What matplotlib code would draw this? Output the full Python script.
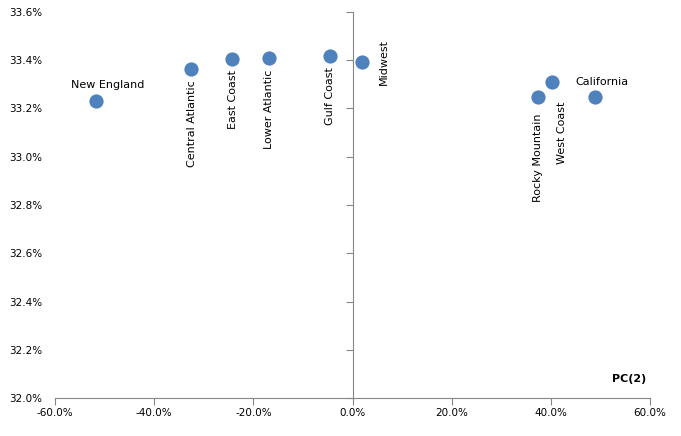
import matplotlib
matplotlib.use("Agg")
import matplotlib.pyplot as plt
from matplotlib.ticker import FuncFormatter

regions = ["New England", "Central Atlantic", "East Coast", "Lower Atlantic",
           "Gulf Coast", "Midwest", "Rocky Mountain", "West Coast", "California"]
pc2 = [-51.7, -32.6, -24.3, -16.8, -4.5, 1.9, 37.4, 40.2, 48.9]
pc1 = [33.231, 33.364, 33.405, 33.409, 33.418, 33.393, 33.248, 33.310, 33.248]
x_ticks = [-60, -40, -20, 0, 20, 40, 60]
y_ticks = [32.0, 32.2, 32.4, 32.6, 32.8, 33.0, 33.2, 33.4, 33.6]

# label placement: (dx, dy in points, rotation, ha, va)
label_style = {
    "New England": (8, 8, 0, "center", "bottom"),
    "Central Atlantic": (1, -8, 90, "center", "top"),
    "East Coast": (1, -8, 90, "center", "top"),
    "Lower Atlantic": (0, -8, 90, "center", "top"),
    "Gulf Coast": (0, -8, 90, "center", "top"),
    "Midwest": (16, 0, 90, "center", "center"),
    "Rocky Mountain": (0, -12, 90, "center", "top"),
    "West Coast": (7, -14, 90, "center", "top"),
    "California": (-14, 7, 0, "left", "bottom"),
}

plt.rcParams['font.family'] = ['DejaVu Sans']
fig = plt.figure(figsize=(6.81, 4.36), dpi=100)
ax = fig.add_axes([55/681, 38/436, 595/681, 386/436])

ax.scatter(pc2, pc1, s=105, color="#4F81BD", zorder=3, linewidths=0)

for name, x, y in zip(regions, pc2, pc1):
    dx, dy, rot, ha, va = label_style[name]
    ax.annotate(name, (x, y), xytext=(dx, dy), textcoords="offset points",
                rotation=rot, ha=ha, va=va, fontsize=8, color="#000000")

ax.set_xlim(-60, 60)
ax.set_ylim(32.0, 33.6)
ax.set_xticks(x_ticks)
ax.set_yticks(y_ticks)
ax.xaxis.set_major_formatter(FuncFormatter(lambda v, p: f"{v:.1f}%"))
ax.yaxis.set_major_formatter(FuncFormatter(lambda v, p: f"{v:.1f}%"))

gray = "#868686"
for s in ["top", "left"]:
    ax.spines[s].set_visible(False)
ax.spines["right"].set_position(("data", 0))
ax.spines["right"].set_color(gray)
ax.spines["bottom"].set_color(gray)
ax.tick_params(axis="y", left=False, right=True, labelleft=True, labelright=False,
               direction="in", length=5, color=gray, pad=9, labelsize=7.5)
ax.tick_params(axis="x", direction="out", length=5, color=gray, pad=2, labelsize=7.5)

ax.text(0.965, 0.035, "PC(2)", transform=ax.transAxes, fontsize=8,
        fontweight="bold", ha="center", va="bottom")

fig.savefig("out.png", dpi=100)
